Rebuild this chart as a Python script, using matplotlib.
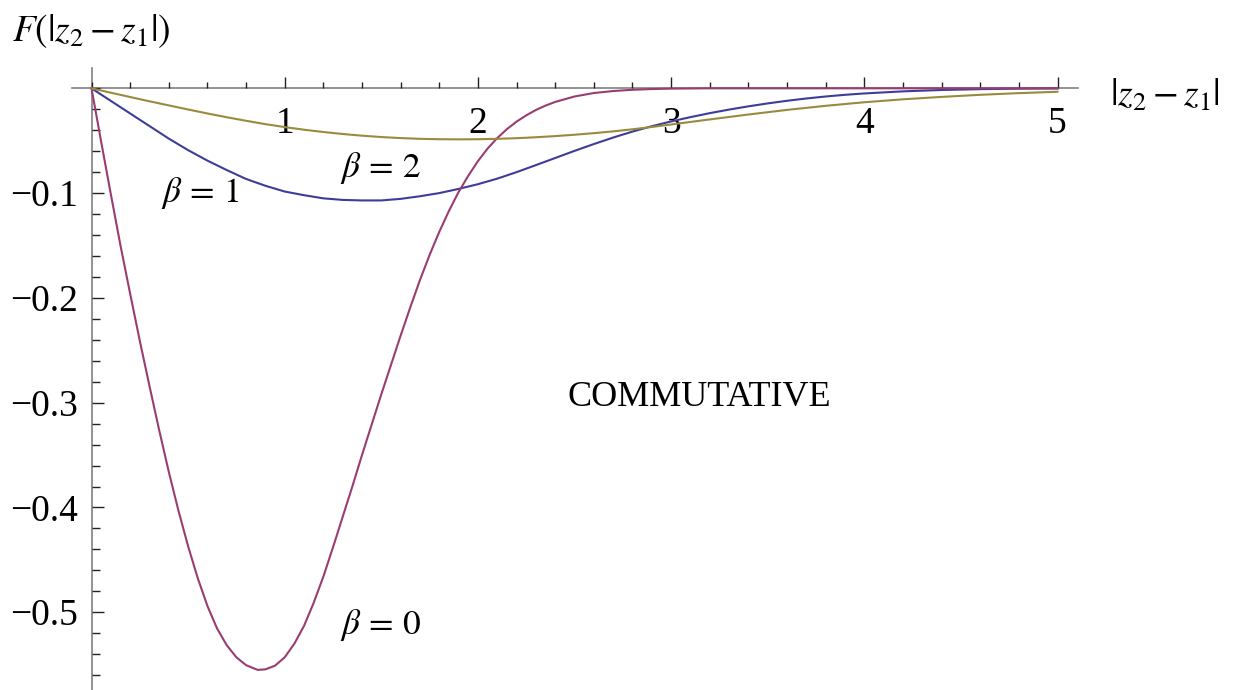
import matplotlib
matplotlib.use("Agg")
import matplotlib.pyplot as plt
from matplotlib.ticker import MultipleLocator, FixedLocator

# curve values
x_b0 = [0, 0.05, 0.1, 0.15, 0.2, 0.25, 0.3, 0.35, 0.4, 0.45, 0.5, 0.55, 0.6,
        0.65, 0.7, 0.75, 0.8, 0.86, 0.9, 0.95, 1.0, 1.05, 1.1, 1.15, 1.2, 1.25,
        1.3, 1.35, 1.4, 1.45, 1.5, 1.55, 1.6, 1.65, 1.7, 1.75, 1.8, 1.85, 1.9,
        1.95, 2.0, 2.05, 2.1, 2.15, 2.2, 2.25, 2.3, 2.35, 2.4, 2.5, 2.6, 2.7,
        2.8, 2.9, 3.0, 3.2, 3.5, 4.0, 4.5, 5.0]
y_b0 = [0, -0.051, -0.101, -0.150, -0.196, -0.241, -0.284, -0.326, -0.366,
        -0.403, -0.437, -0.4675, -0.494, -0.5155, -0.5315, -0.543, -0.5505,
        -0.555, -0.5545, -0.551, -0.543, -0.530, -0.513, -0.491, -0.466, -0.438,
        -0.409, -0.380, -0.350, -0.321, -0.292, -0.264, -0.236, -0.209, -0.183,
        -0.159, -0.137, -0.117, -0.099, -0.0835, -0.0695, -0.0575, -0.0475,
        -0.039, -0.0318, -0.0258, -0.0207, -0.0165, -0.013, -0.0078, -0.0045,
        -0.0026, -0.0014, -0.0007, -0.0003, 0, 0, 0, 0, 0]

x_b1 = [0, 0.1, 0.2, 0.3, 0.4, 0.5, 0.6, 0.7, 0.8, 0.9, 1.0, 1.1, 1.2, 1.3, 1.4,
        1.5, 1.6, 1.7, 1.8, 1.9, 2.0, 2.1, 2.2, 2.3, 2.4, 2.5, 2.6, 2.7, 2.8,
        2.9, 3.0, 3.1, 3.2, 3.3, 3.4, 3.5, 3.6, 3.7, 3.8, 3.9, 4.0, 4.2, 4.4,
        4.6, 4.8, 5.0]
y_b1 = [0, -0.012, -0.024, -0.036, -0.048, -0.059, -0.069, -0.078, -0.0865,
        -0.093, -0.0985, -0.102, -0.105, -0.1065, -0.107, -0.107, -0.1055,
        -0.103, -0.100, -0.096, -0.0915, -0.0862, -0.080, -0.0733, -0.0665,
        -0.0597, -0.0532, -0.047, -0.0413, -0.0362, -0.0316, -0.0275, -0.0237,
        -0.0203, -0.0172, -0.0144, -0.0119, -0.0097, -0.0078, -0.0062, -0.0049,
        -0.0029, -0.0016, -0.0008, -0.0003, -0.0001]

x_b2 = [0, 0.1, 0.2, 0.3, 0.4, 0.5, 0.6, 0.7, 0.8, 0.9, 1.0, 1.1, 1.2, 1.3, 1.4,
        1.5, 1.6, 1.7, 1.8, 1.9, 2.0, 2.1, 2.2, 2.3, 2.4, 2.5, 2.6, 2.7, 2.8,
        2.9, 3.0, 3.2, 3.4, 3.6, 3.8, 4.0, 4.2, 4.4, 4.6, 4.8, 5.0]
y_b2 = [0, -0.0042, -0.0083, -0.0124, -0.0163, -0.0202, -0.024, -0.0276, -0.031,
        -0.0342, -0.0370, -0.0395, -0.0417, -0.0436, -0.0452, -0.0465, -0.0475,
        -0.0482, -0.0486, -0.0487, -0.0486, -0.0482, -0.0476, -0.0467, -0.0456,
        -0.0443, -0.0428, -0.0411, -0.0391, -0.0369, -0.0345, -0.0297, -0.0250,
        -0.0206, -0.0167, -0.0133, -0.0105, -0.0082, -0.0062, -0.0046, -0.0033]

x_ticks = [1, 2, 3, 4, 5]
y_ticks = [-0.5, -0.4, -0.3, -0.2, -0.1]

plt.rcParams['font.family'] = ['Liberation Serif', 'DejaVu Serif']
plt.rcParams['mathtext.fontset'] = 'stix'

W, H = 1236, 690
fig = plt.figure(figsize=(W / 100, H / 100), dpi=100)
left, right, top, bottom = 71.7, 1078, 68.3, 690
ax = fig.add_axes([left / W, 1 - bottom / H, (right - left) / W, (bottom - top) / H])
ax.set_xlim(-0.1025, 5.106)
ax.set_ylim(-0.5742, 0.0191)

blue = (0.24, 0.24, 0.6)
magenta = (0.6, 0.24, 0.442)
olive = (0.6, 0.547, 0.24)

ax.plot(x_b1, y_b1, color=blue, lw=1.5)
ax.plot(x_b0, y_b0, color=magenta, lw=1.5)
ax.plot(x_b2, y_b2, color=olive, lw=1.5)

for s in ['top', 'right']:
    ax.spines[s].set_visible(False)
ax.spines['left'].set_position(('data', 0))
ax.spines['bottom'].set_position(('data', 0))
for s in ['left', 'bottom']:
    ax.spines[s].set_color('#808080')
    ax.spines[s].set_linewidth(1.2)
    ax.spines[s].set_zorder(0)

ax.xaxis.set_major_locator(FixedLocator(x_ticks))
ax.xaxis.set_minor_locator(MultipleLocator(0.2))
ax.yaxis.set_major_locator(FixedLocator(y_ticks))
ax.yaxis.set_minor_locator(MultipleLocator(0.02))
ax.tick_params(axis='both', which='both', direction='in', color='#222222', width=1.0)
ax.tick_params(axis='both', which='major', labelsize=27)
ax.tick_params(axis='x', which='major', length=8, pad=13)
ax.tick_params(axis='x', which='minor', length=4.3)
ax.tick_params(axis='y', which='major', length=8.5, pad=10)
ax.tick_params(axis='y', which='minor', length=5.5)

ax.text(-0.41, 0.055, r'$F(|z_2-z_1|)$', fontsize=27, ha='left', va='center',
        clip_on=False)
ax.text(5.27, -0.007, r'$|z_2-z_1|$', fontsize=27, ha='left', va='center', clip_on=False)

ax.text(0.564, -0.0996, r'$\beta\,=\,1$', fontsize=25.5, ha='center', va='center')
ax.text(1.496, -0.0763, r'$\beta\,=\,2$', fontsize=25.5, ha='center', va='center')
ax.text(1.496, -0.5123, r'$\beta\,=\,0$', fontsize=25.5, ha='center', va='center')
ax.text(3.145, -0.2952, 'COMMUTATIVE', fontsize=26, ha='center', va='center')

fig.savefig('out.png', dpi=100)
